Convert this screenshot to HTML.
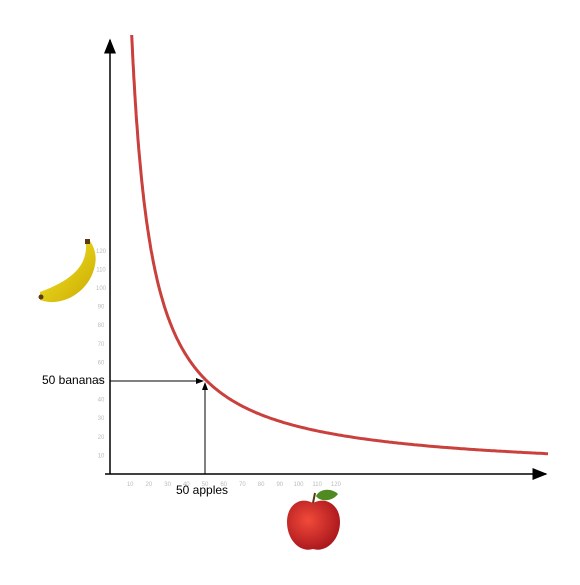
<!DOCTYPE html>
<html><head><meta charset="utf-8"><style>
body{margin:0;background:#fff;width:580px;height:580px;overflow:hidden}
svg text{font-family:"Liberation Sans",sans-serif}
</style></head><body>
<svg id="c" width="580" height="580">
<defs>
<marker id="ah" markerWidth="10" markerHeight="10" refX="9" refY="5" orient="auto"><path d="M0,1 L10,5 L0,9 z" fill="#000"/></marker>
<marker id="as" markerWidth="8" markerHeight="8" refX="7" refY="4" orient="auto"><path d="M0,1 L8,4 L0,7 z" fill="#000"/></marker>
<radialGradient id="ap" cx="0.4" cy="0.4" r="0.7"><stop offset="0" stop-color="#f24a3a"/><stop offset="1" stop-color="#a3121a"/></radialGradient>
<linearGradient id="bn" x1="0" y1="0" x2="1" y2="1"><stop offset="0" stop-color="#f7ea2a"/><stop offset="1" stop-color="#c9a800"/></linearGradient>
</defs>
<line x1="110" y1="474" x2="110" y2="40" stroke="#000" stroke-width="1.5" marker-end="url(#ah)"/>
<line x1="105" y1="474" x2="546" y2="474" stroke="#000" stroke-width="1.5" marker-end="url(#ah)"/>
<g id="ticks"></g>
<path id="curve" fill="none" stroke="#c9403c" stroke-width="3"/>
<line id="hl" stroke="#000" stroke-width="1" marker-end="url(#as)"/>
<line id="vl" stroke="#000" stroke-width="1" marker-end="url(#as)"/>
<text x="42" y="384" font-size="12">50 bananas</text>
<text x="176" y="494" font-size="12">50 apples</text>
<g>
<path d="M40,300 C62,308 90,292 95,265 C97,255 94,247 90,241 L86,243 C87,262 78,278 40,292 Z" fill="url(#bn)"/>
<rect x="85" y="239" width="5" height="5" fill="#5a3a10"/>
<circle cx="41" cy="297" r="2.5" fill="#5a3a10"/>
</g>
<g>
<path d="M313,503 C300,496 287,505 287,522 C287,540 300,553 313,549 C326,553 340,540 340,522 C340,505 326,496 313,503 Z" fill="url(#ap)"/>
<path d="M313,503 L315,493" stroke="#5a3a10" stroke-width="2"/>
<path d="M316,496 C320,488 332,488 338,494 C332,502 320,502 316,496 Z" fill="#4f8a22"/>
</g>
</svg>
<script>
const tickValues=[10,20,30,40,50,60,70,80,90,100,110,120];
const curveK=[2550];
const guideX=[50];
const guideY=[50];
const x0=111.5,y0=474,sx=1.87,sy=1.86;
const X=v=>x0+v*sx, Y=v=>y0-v*sy;
const g=document.getElementById('ticks');
const ns='http://www.w3.org/2000/svg';
tickValues.forEach(v=>{
 let t=document.createElementNS(ns,'text');
 
 
 t.setAttribute('x',X(v));t.setAttribute('y',486);t.setAttribute('font-size','6');t.setAttribute('fill','#bbb');t.setAttribute('text-anchor','middle');t.textContent=v;g.appendChild(t);
 let u=document.createElementNS(ns,'text');
 
 
 u.setAttribute('x',101);u.setAttribute('y',Y(v)+2);u.setAttribute('font-size','6');u.setAttribute('fill','#bbb');u.setAttribute('text-anchor','middle');u.textContent=v;g.appendChild(u);
});
const k=curveK[0];
let d='';
const xmax=(548-x0)/sx, xmin=k/((y0-35)/sy);
for(let i=0;i<=300;i++){const xv=xmin+(xmax-xmin)*Math.pow(i/300,2);d+=(i?'L':'M')+X(xv).toFixed(1)+','+Y(k/xv).toFixed(1);}
document.getElementById('curve').setAttribute('d',d);
const hl=document.getElementById('hl');
hl.setAttribute('x1',110);hl.setAttribute('y1',Y(guideY[0]));hl.setAttribute('x2',X(guideX[0])-2);hl.setAttribute('y2',Y(guideY[0]));
const vl=document.getElementById('vl');
vl.setAttribute('x1',X(guideX[0]));vl.setAttribute('y1',474);vl.setAttribute('x2',X(guideX[0]));vl.setAttribute('y2',Y(guideY[0])+2);
</script>
</body></html>
